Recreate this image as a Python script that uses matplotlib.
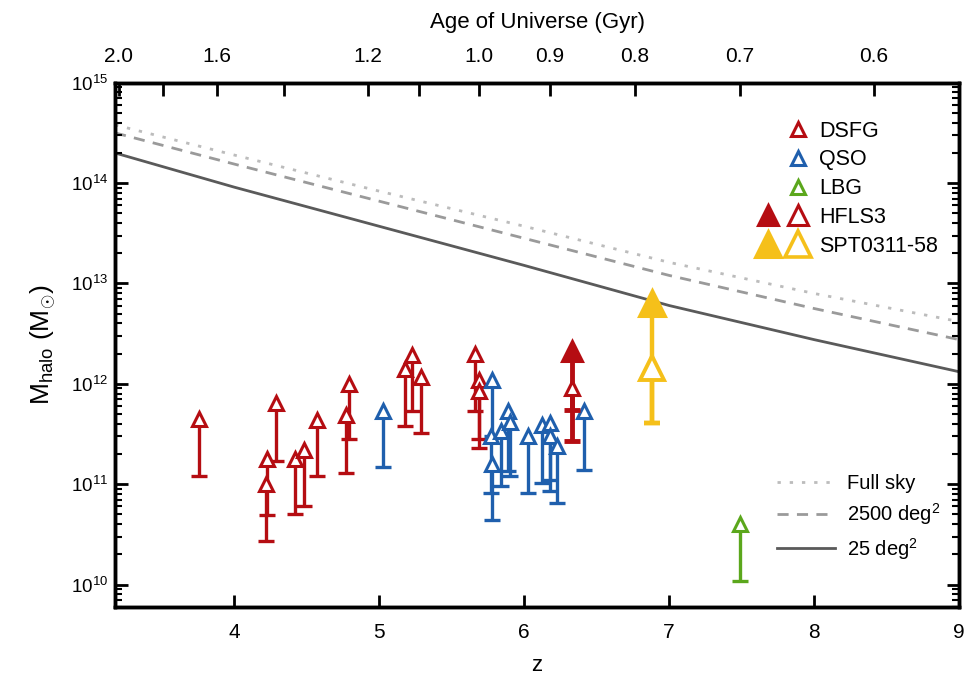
import numpy as np
import matplotlib
matplotlib.use("Agg")
import matplotlib.pyplot as plt
from matplotlib.lines import Line2D
from matplotlib.legend_handler import HandlerTuple

plt.rcParams['font.family'] = ['Liberation Sans', 'DejaVu Sans']
plt.rcParams['mathtext.fontset'] = 'custom'
plt.rcParams['mathtext.rm'] = 'Liberation Sans'
plt.rcParams['mathtext.it'] = 'Liberation Sans:italic'
plt.rcParams['mathtext.bf'] = 'Liberation Sans:bold'

# ---------------- data ----------------
dsfg_z = [3.76, 4.23, 4.22, 4.29, 4.42, 4.48, 4.57, 4.77, 4.79, 5.18, 5.23, 5.29, 5.66, 5.69, 5.69]
dsfg_top = [4.5e11, 1.8e11, 1.0e11, 6.4e11, 1.8e11, 2.2e11, 4.4e11, 4.9e11, 1.0e12,
            1.4e12, 1.95e12, 1.17e12, 2.0e12, 1.1e12, 8.4e11]
dsfg_low = [1.2e11, 4.9e10, 2.7e10, 1.7e11, 5.0e10, 6.0e10, 1.2e11, 1.3e11, 2.8e11,
            3.8e11, 5.3e11, 3.2e11, 5.3e11, 2.8e11, 2.3e11]

qso_z = [5.03, 5.78, 5.77, 5.78, 5.84, 5.89, 5.90, 6.03, 6.12, 6.18, 6.18, 6.23, 6.41]
qso_top = [5.4e11, 1.1e12, 3.0e11, 1.6e11, 3.4e11, 5.3e11, 4.2e11, 3.0e11, 3.9e11,
           4.1e11, 3.0e11, 2.4e11, 5.3e11]
qso_low = [1.5e11, 3.0e11, 8.2e10, 4.4e10, 9.5e10, 1.34e11, 1.2e11, 8.2e10, 1.03e11,
           1.1e11, 8.5e10, 6.5e10, 1.4e11]

lbg_z = [7.49]
lbg_top = [4.0e10]
lbg_low = [1.08e10]

hfls3_z = [6.33]
hfls3_filled_top = [2.1e12]
hfls3_filled_low = [5.5e11]
hfls3_open_top = [9.1e11]
hfls3_open_low = [2.7e11]

spt_z = [6.88]
spt_filled_top = [6.4e12]
spt_open_top = [1.44e12]
spt_low = [4.1e11]

line_z = [3.18, 4, 5, 6, 7, 8, 9]
fullsky_logm = [14.58, 14.28, 13.92, 13.57, 13.21, 12.90, 12.62]
deg2500_logm = [14.50, 14.19, 13.82, 13.45, 13.08, 12.75, 12.44]
deg25_logm = [14.30, 13.96, 13.57, 13.18, 12.78, 12.44, 12.12]

age_ticks = [2.0, 1.8, 1.6, 1.4, 1.2, 1.1, 1.0, 0.9, 0.8, 0.7, 0.6]
age_labels = ['2.0', '', '1.6', '', '1.2', '', '1.0', '0.9', '0.8', '0.7', '0.6']

RED = '#b50d12'
BLUE = '#1f5fad'
GREEN = '#5ba71c'
YELLOW = '#f5c01a'


def z_of_age(t, H0=67.8, Om=0.308):
    t = np.asarray(t, dtype=float)
    OL = 1 - Om
    tH = 977.8 / H0  # Gyr
    pref = 2.0 / (3.0 * np.sqrt(OL)) * tH
    x = np.sinh(t / pref) / np.sqrt(OL / Om)
    return x ** (-2.0 / 3.0) - 1


fig = plt.figure(figsize=(9.67, 6.78), dpi=100)
ax = fig.add_axes([0.119, 0.105, 0.873, 0.773])

# lines
ax.plot(line_z, 10 ** np.array(fullsky_logm), color='#bcbcbc', lw=2, ls=(0, (1.2, 3.2)), zorder=1)
ax.plot(line_z, 10 ** np.array(deg2500_logm), color='#9a9a9a', lw=2, ls=(0, (4, 3)), zorder=1)
ax.plot(line_z, 10 ** np.array(deg25_logm), color='#5a5a5a', lw=2, zorder=1)


def limits(z, top, low, color, ms=10, mew=2.2, lw=2.4, capms=11, filled=False, zo=3):
    ax.vlines(z, low, top, color=color, lw=lw, zorder=zo)
    ax.plot(z, low, ls='none', marker='_', ms=capms, mew=lw, color=color, zorder=zo)
    ax.plot(z, top, ls='none', marker='^', ms=ms, mew=mew, mec=color,
            mfc=color if filled else 'white', zorder=zo + 0.5)


limits(dsfg_z, dsfg_top, dsfg_low, RED)
limits(qso_z, qso_top, qso_low, BLUE)
limits(lbg_z, lbg_top, lbg_low, GREEN)
limits(hfls3_z, hfls3_filled_top, hfls3_filled_low, RED, ms=14, lw=3.5, filled=True, zo=4)
limits(hfls3_z, hfls3_open_top, hfls3_open_low, RED, ms=10, lw=3.5, zo=5)
limits(spt_z, spt_filled_top, spt_low, YELLOW, ms=19, lw=3.2, capms=12, filled=True, zo=4)
limits(spt_z, spt_open_top, spt_low, YELLOW, ms=17, mew=2.8, lw=3.2, capms=12, zo=5)

ax.set_yscale('log')
ax.set_xlim(3.18, 9.0)
ax.set_ylim(6e9, 1e15)
ax.set_xticks([4, 5, 6, 7, 8, 9])
ax.tick_params(axis='x', which='major', direction='in', length=9, width=2, labelsize=15, pad=12)
ax.tick_params(axis='y', which='major', direction='in', length=9, width=2, labelsize=13.5,
               right=True, pad=5)
ax.tick_params(axis='y', which='minor', direction='in', length=5, width=1.5, right=True)
ax.tick_params(axis='x', which='minor', bottom=False, top=False)
for s in ax.spines.values():
    s.set_linewidth(2.5)
ax.set_xlabel('z', fontsize=16, labelpad=9)
ax.set_ylabel(r'$\mathrm{M_{halo}\ (M_{\odot})}$', fontsize=19, labelpad=9)

ax2 = ax.twiny()
ax2.set_xlim(ax.get_xlim())
ax2.set_xticks(z_of_age(age_ticks))
ax2.set_xticklabels(age_labels)
ax2.tick_params(axis='x', which='major', direction='in', length=9, width=2, labelsize=15, pad=12)
ax2.tick_params(axis='x', which='minor', top=False, bottom=False)
ax2.set_xlabel('Age of Universe (Gyr)', fontsize=16, labelpad=14)
for s in ax2.spines.values():
    s.set_linewidth(2.5)

# legends
blank = Line2D([], [], ls='none')
def mk(color, filled=False, ms=10, mew=2.2):
    return Line2D([], [], ls='none', marker='^', ms=ms, mew=mew, mec=color,
                  mfc=color if filled else 'white')

handles = [(blank, mk(RED)), (blank, mk(BLUE)), (blank, mk(GREEN)),
           (mk(RED, True, 14), mk(RED, ms=14)),
           (mk(YELLOW, True, 19), mk(YELLOW, ms=19, mew=2.6))]
labels = ['DSFG', 'QSO', 'LBG', 'HFLS3', 'SPT0311-58']
leg1 = ax.legend(handles, labels, handler_map={tuple: HandlerTuple(ndivide=None, pad=0.2)},
                 loc='upper left', bbox_to_anchor=(0.745, 0.948), frameon=False, fontsize=15.5,
                 handlelength=2.6, handletextpad=0.4, labelspacing=0.36, borderpad=0)
ax.add_artist(leg1)

lh = [Line2D([], [], color='#bcbcbc', lw=2, ls=(0, (1.2, 3.2))),
      Line2D([], [], color='#9a9a9a', lw=2, ls=(0, (4, 3))),
      Line2D([], [], color='#5a5a5a', lw=2)]
ax.legend(lh, ['Full sky', '2500 deg$^2$', '25 deg$^2$'], loc='upper left',
          bbox_to_anchor=(0.772, 0.273), frameon=False, fontsize=14.5,
          handlelength=2.9, handletextpad=0.6, labelspacing=0.42, borderpad=0)

fig.savefig('out.png', dpi=100)
